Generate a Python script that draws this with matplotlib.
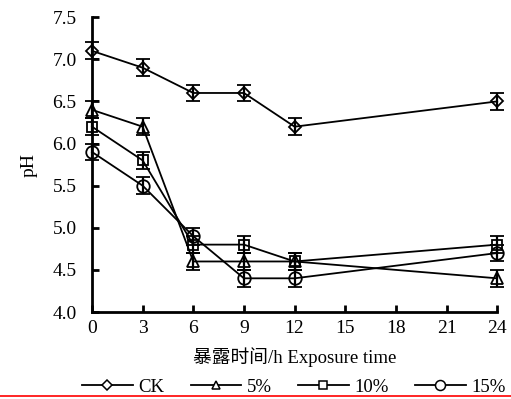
import matplotlib.pyplot as plt
from matplotlib.lines import Line2D

# pH over exposure time for each treatment
hours = [0, 3, 6, 9, 12, 24]
ph_ck = [7.1, 6.9, 6.6, 6.6, 6.2, 6.5]
ph_5 = [6.4, 6.2, 4.6, 4.6, 4.6, 4.4]
ph_10 = [6.2, 5.8, 4.8, 4.8, 4.6, 4.8]
ph_15 = [5.9, 5.5, 4.9, 4.4, 4.4, 4.7]
err = [0.1, 0.1, 0.1, 0.1, 0.1, 0.1]

series = [("CK", ph_ck, "D", 6.5), ("5%", ph_5, "^", 8),
          ("10%", ph_10, "s", 7.5), ("15%", ph_15, "o", 9)]

serif = ["Liberation Serif", "Noto Sans CJK SC"]
plt.rcParams["font.family"] = serif

fig = plt.figure(figsize=(5.11, 3.99), dpi=100)
ax = fig.add_axes([0.180, 0.218, 0.793, 0.739])

handles = []
for name, vals, mk, ms in series:
    ax.errorbar(hours, vals, yerr=err, color="black", lw=1.3, marker=mk,
                ms=ms, mfc="none", mec="black", mew=1.3,
                elinewidth=1.6, capsize=5, capthick=2.2, zorder=3)
    handles.append(Line2D([], [], color="black", lw=1.3, marker=mk,
                          ms=ms * 0.8, mfc="white", mec="black", mew=1.1,
                          label=name))

ax.set_xlim(0, 24)
ax.set_ylim(4.0, 7.5)
ax.set_xticks(range(0, 25, 3))
ax.set_yticks([4.0, 4.5, 5.0, 5.5, 6.0, 6.5, 7.0, 7.5])
ax.set_yticklabels(["4.0", "4.5", "5.0", "5.5", "6.0", "6.5", "7.0", "7.5"])
for side in ["top", "right"]:
    ax.spines[side].set_visible(False)
for side in ["left", "bottom"]:
    ax.spines[side].set_linewidth(2)
ax.tick_params(direction="in", length=5, width=2, labelsize=14)
ax.tick_params(axis="y", pad=11)
ax.tick_params(axis="x", pad=6)
ax.set_ylabel("pH", fontsize=14, labelpad=11)
ax.set_xlabel("暴露时间/h Exposure time", fontsize=13.5, labelpad=7)
for art in ax.get_children():
    art.set_clip_on(False)

fig.legend(handles=handles, loc="center", bbox_to_anchor=(0.575, 0.03),
           ncol=4, frameon=False, fontsize=13.5, handlelength=2.7,
           handletextpad=0.3, columnspacing=1.4)

# red rule along the bottom edge of the source image
fig.add_artist(Line2D([0, 1], [0.008, 0.008], color="red", lw=1.2,
                      transform=fig.transFigure))

fig.savefig("out.png", dpi=100)
